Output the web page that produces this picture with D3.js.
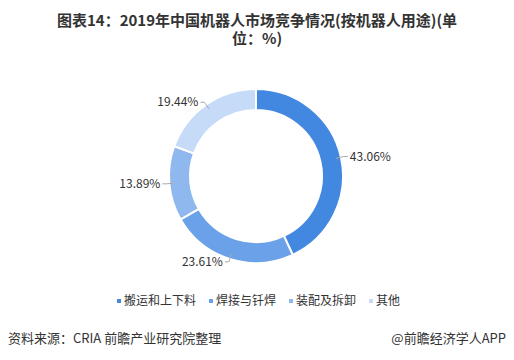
<!DOCTYPE html>
<html>
<head>
<meta charset="utf-8">
<script src="https://cdn.jsdelivr.net/npm/d3@7"></script>
<style>
body { margin: 0; background: #fff; }
svg { display: block; font-family: "Noto Sans CJK SC", "Noto Sans", sans-serif; }
</style>
</head>
<body>
<svg width="514" height="360"></svg>
<script>
var categories = ["搬运和上下料", "焊接与钎焊", "装配及拆卸", "其他"];
var values = [43.06, 23.61, 13.89, 19.44];
var colors = ["#4288e0", "#6aa1e8", "#8fb8ee", "#c5dbf7"];

var svg = d3.select("svg"),
width = +svg.attr("width"),
height = +svg.attr("height");

var cx = 256, cy = 176, outerR = 87, innerR = 66;

// title, two lines
svg.append("text")
.attr("x", width / 2).attr("y", 26)
.attr("text-anchor", "middle")
.attr("font-size", 15)
.attr("font-weight", "bold")
.attr("fill", "#333")
.text("图表14：2019年中国机器人市场竞争情况(按机器人用途)(单");
svg.append("text")
.attr("x", width / 2).attr("y", 44)
.attr("text-anchor", "middle")
.attr("font-size", 15)
.attr("font-weight", "bold")
.attr("fill", "#333")
.text("位：%)");

var data = values.map(function (v, i) { return { name: categories[i], value: v, color: colors[i] } });

var pie = d3.pie().sort(null).value(function (d) { return d.value });
var arc = d3.arc().innerRadius(innerR).outerRadius(outerR);

var g = svg.append("g").attr("transform", "translate(" + cx + "," + cy + ")");
var arcs = pie(data);

g.selectAll("path")
.data(arcs)
.enter().append("path")
.attr("d", arc)
.attr("fill", function (d) { return d.data.color })
.attr("stroke", "#fff")
.attr("stroke-width", 2);

// labels with short leader lines
function pt(a, r) { return [Math.sin(a) * r, -Math.cos(a) * r] }
arcs.forEach(function (d) {
  var mid = (d.startAngle + d.endAngle) / 2;
  var right = Math.sin(mid) > 0;
  var p1 = pt(mid, 82), p2 = pt(mid, 90);
  var p3 = [p2[0] + (right ? 4 : -4), p2[1]];
  g.append("polyline")
   .attr("points", [p1, p2, p3].map(function (p) { return p.join(",") }).join(" "))
   .attr("fill", "none")
   .attr("stroke", "#aaa")
   .attr("stroke-width", 1);
  g.append("text")
   .attr("x", p3[0] + (right ? 2 : -2))
   .attr("y", p3[1])
   .attr("dy", "0.35em")
   .attr("text-anchor", right ? "start" : "end")
   .attr("font-size", 12)
   .attr("fill", "#333")
   .text(d3.format(".2f")(d.data.value) + "%");
});

// legend
var legend = svg.append("g").attr("transform", "translate(117,301)");
var lx = 0;
data.forEach(function (d) {
  var item = legend.append("g").attr("transform", "translate(" + lx + ",0)");
  item.append("rect").attr("x", 0).attr("y", -2).attr("width", 4).attr("height", 4).attr("fill", d.color);
  var t = item.append("text").attr("x", 7).attr("dy", "0.35em")
   .attr("font-size", 12).attr("fill", "#333").text(d.name);
  lx += 7 + t.node().getComputedTextLength() + 13;
});

// source
svg.append("text").attr("x", 8).attr("y", 338).attr("dy", "0.35em")
.attr("font-size", 13).attr("fill", "#333")
.text("资料来源：CRIA 前瞻产业研究院整理");
svg.append("text").attr("x", 506).attr("y", 338).attr("dy", "0.35em")
.attr("text-anchor", "end")
.attr("font-size", 13).attr("fill", "#333")
.text("@前瞻经济学人APP");
</script>
</body>
</html>
